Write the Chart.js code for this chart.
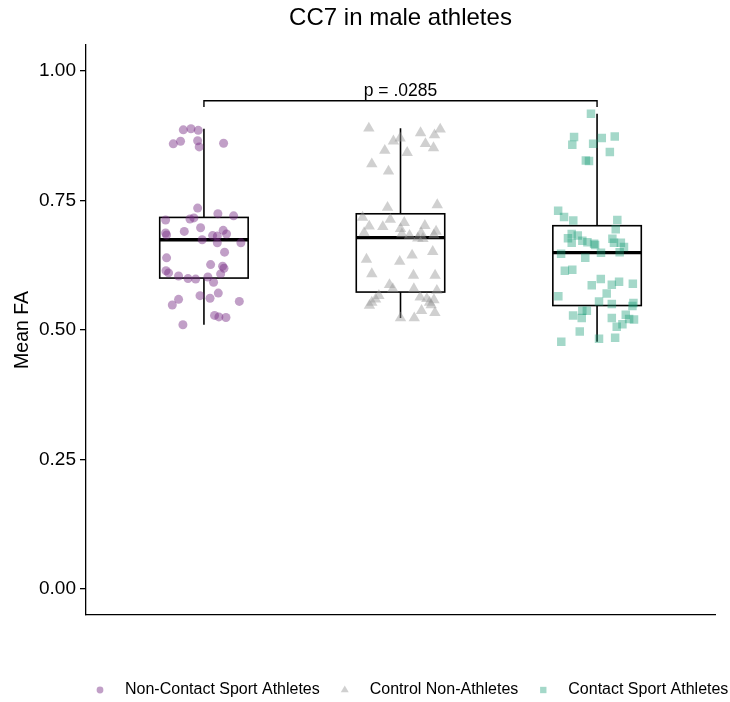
<!DOCTYPE html>
<html>
<head>
<meta charset="utf-8">
<title>CC7 in male athletes</title>
<script src="https://cdn.jsdelivr.net/npm/chart.js@4/dist/chart.umd.min.js"></script>
<style>
  html, body { margin: 0; padding: 0; background: #ffffff; }
  #wrap { width: 730px; height: 702px; }
</style>
</head>
<body>
<div id="wrap"><canvas id="chart" width="730" height="702"></canvas></div>
<script>
// Groups, in x order
const groups = ['Non-Contact Sport Athletes', 'Control Non-Athletes', 'Contact Sport Athletes'];

// Mean FA per participant, with the horizontal jitter of each dot (in category units)
const nonContactFA = [0.886,0.888,0.885,0.859,0.864,0.865,0.853,0.860,0.735,0.714,0.716,0.724,0.720,0.712,0.697,0.690,0.687,0.683,0.692,0.685,0.682,0.681,0.674,0.668,0.668,0.650,0.639,0.626,0.623,0.619,0.614,0.610,0.604,0.599,0.598,0.602,0.608,0.592,0.566,0.571,0.561,0.559,0.548,0.555,0.528,0.525,0.524,0.510];
const nonContactJitter = [-0.105,-0.066,-0.029,-0.156,-0.119,-0.032,-0.024,0.100,-0.032,-0.071,-0.051,0.071,0.151,-0.195,-0.017,-0.100,-0.195,-0.190,0.098,0.115,0.044,0.068,-0.009,0.068,0.188,0.105,-0.190,0.034,0.095,0.102,-0.193,-0.180,-0.129,-0.081,-0.042,0.020,0.085,0.049,-0.020,0.073,0.031,-0.129,-0.161,0.180,0.054,0.076,0.112,-0.107];

const controlFA = [0.889,0.880,0.887,0.876,0.870,0.864,0.859,0.851,0.846,0.842,0.820,0.806,0.736,0.741,0.717,0.713,0.700,0.699,0.707,0.695,0.701,0.687,0.685,0.682,0.687,0.677,0.676,0.690,0.683,0.651,0.644,0.636,0.632,0.608,0.605,0.605,0.587,0.579,0.579,0.576,0.566,0.559,0.553,0.547,0.563,0.560,0.553,0.548,0.558,0.537,0.533,0.523,0.523];
const controlJitter = [-0.161,0.102,0.202,0.173,-0.002,-0.036,0.127,0.168,-0.080,0.034,-0.146,-0.061,-0.066,0.187,-0.193,-0.052,-0.159,-0.090,0.019,0.000,0.124,-0.185,0.007,0.046,0.105,0.088,0.114,0.181,0.170,0.164,0.059,-0.173,-0.004,-0.146,0.066,0.176,-0.056,-0.039,0.068,0.185,-0.110,-0.127,-0.146,-0.158,0.100,0.134,0.148,0.156,0.170,0.107,0.175,0.000,0.070];

const contactFA = [0.917,0.872,0.870,0.873,0.857,0.859,0.843,0.827,0.826,0.730,0.718,0.711,0.712,0.694,0.685,0.682,0.677,0.668,0.672,0.669,0.666,0.664,0.676,0.668,0.668,0.660,0.647,0.649,0.650,0.639,0.614,0.616,0.598,0.586,0.587,0.593,0.589,0.570,0.565,0.555,0.550,0.552,0.546,0.537,0.537,0.523,0.528,0.523,0.529,0.521,0.520,0.506,0.511,0.497,0.477,0.483,0.485];
const contactJitter = [-0.031,-0.117,0.024,0.090,-0.126,-0.020,0.065,-0.057,-0.041,-0.198,-0.168,-0.121,0.103,0.095,-0.129,-0.098,-0.148,-0.129,-0.075,-0.049,-0.015,-0.010,0.078,0.086,0.121,0.137,-0.183,0.020,0.115,-0.060,-0.164,-0.126,0.019,-0.027,0.075,0.112,0.182,0.049,-0.197,0.010,0.075,0.185,0.180,-0.075,-0.052,-0.078,-0.122,0.075,0.146,0.163,0.188,0.100,0.129,-0.088,-0.182,0.010,0.092];

// Box-plot summaries, one entry per group
const whiskerLow  = [0.510, 0.523, 0.477];
const boxQ1       = [0.600, 0.573, 0.547];
const boxMedian   = [0.674, 0.678, 0.649];
const boxQ3       = [0.717, 0.724, 0.701];
const whiskerHigh = [0.888, 0.889, 0.917];

// Y axis ticks
const yTicks = [0.00, 0.25, 0.50, 0.75, 1.00];

// Significance bracket between the first and third groups
const bracketGroups = [1, 3];
const bracketLevel = 0.942;
const bracketDrop = 0.012;
const bracketLabel = 'p = .0285';

const FONT = "'Liberation Sans', Arial, Helvetica, sans-serif";
const BOX_HALF = 0.225;

function toPoints(values, jitter, pos) {
  return values.map((v, i) => ({ x: pos + jitter[i], y: v }));
}

const seriesStyle = [
  { style: 'circle',   radius: 4.5, color: 'rgba(118,42,131,0.45)', legendRadius: 3.4 },
  { style: 'triangle', radius: 6.6, color: 'rgba(150,150,150,0.45)', legendRadius: 4.6 },
  { style: 'rect',     radius: 6.0, color: 'rgba(27,158,119,0.40)', legendRadius: 4.5 }
];

const seriesData = [
  toPoints(nonContactFA, nonContactJitter, 1),
  toPoints(controlFA, controlJitter, 2),
  toPoints(contactFA, contactJitter, 3)
];

// Boxes, whiskers and the comparison bracket, drawn under the dots
const boxPlotPlugin = {
  id: 'boxPlot',
  beforeDatasetsDraw(chart) {
    const { ctx, scales: { x, y } } = chart;
    ctx.save();
    ctx.strokeStyle = '#000';
    ctx.lineCap = 'butt';
    const seg = (x1, y1, x2, y2) => { ctx.beginPath(); ctx.moveTo(x1, y1); ctx.lineTo(x2, y2); ctx.stroke(); };
    groups.forEach((g, i) => {
      const pos = i + 1;
      const cx = x.getPixelForValue(pos);
      const l = x.getPixelForValue(pos - BOX_HALF);
      const r = x.getPixelForValue(pos + BOX_HALF);
      const yQ1 = y.getPixelForValue(boxQ1[i]);
      const yQ3 = y.getPixelForValue(boxQ3[i]);
      const yMed = y.getPixelForValue(boxMedian[i]);
      ctx.lineWidth = 1.6;
      seg(cx, y.getPixelForValue(whiskerHigh[i]), cx, yQ3);
      seg(cx, yQ1, cx, y.getPixelForValue(whiskerLow[i]));
      ctx.strokeRect(l, yQ3, r - l, yQ1 - yQ3);
      ctx.lineWidth = 3.4;
      seg(l, yMed, r, yMed);
    });
    // bracket
    const bx1 = x.getPixelForValue(bracketGroups[0]);
    const bx2 = x.getPixelForValue(bracketGroups[1]);
    const by = y.getPixelForValue(bracketLevel);
    const byDrop = y.getPixelForValue(bracketLevel - bracketDrop);
    ctx.lineWidth = 1.4;
    ctx.beginPath();
    ctx.moveTo(bx1, byDrop);
    ctx.lineTo(bx1, by);
    ctx.lineTo(bx2, by);
    ctx.lineTo(bx2, byDrop);
    ctx.stroke();
    ctx.fillStyle = '#000';
    ctx.font = '17.5px ' + FONT;
    ctx.textAlign = 'center';
    ctx.textBaseline = 'bottom';
    ctx.fillText(bracketLabel, (bx1 + bx2) / 2, by - 1);
    ctx.restore();
  }
};

function drawSymbol(ctx, style, x, y, r) {
  ctx.beginPath();
  if (style === 'circle') {
    ctx.arc(x, y, r, 0, Math.PI * 2);
  } else if (style === 'triangle') {
    ctx.moveTo(x, y - r);
    ctx.lineTo(x + r * Math.sin(Math.PI / 3), y + r / 2);
    ctx.lineTo(x - r * Math.sin(Math.PI / 3), y + r / 2);
    ctx.closePath();
  } else {
    const s = r * Math.SQRT1_2;
    ctx.rect(x - s, y - s, 2 * s, 2 * s);
  }
  ctx.fill();
}

// Legend row along the bottom
const bottomLegendPlugin = {
  id: 'bottomLegend',
  afterDraw(chart) {
    const ctx = chart.ctx;
    ctx.save();
    ctx.font = '16px ' + FONT;
    ctx.textBaseline = 'middle';
    ctx.textAlign = 'left';
    const yRow = 690;
    let xPos = 100;
    chart.data.datasets.forEach((ds, i) => {
      ctx.fillStyle = ds.backgroundColor;
      drawSymbol(ctx, seriesStyle[i].style, xPos, yRow, seriesStyle[i].legendRadius);
      ctx.fillStyle = '#000';
      const tx = xPos + 25;
      ctx.fillText(ds.label, tx, yRow);
      xPos = tx + ctx.measureText(ds.label).width + 25;
    });
    ctx.restore();
  }
};

Chart.defaults.font.family = FONT;
Chart.defaults.color = '#000';

new Chart(document.getElementById('chart'), {
  type: 'scatter',
  data: {
    datasets: groups.map((g, i) => ({
      label: g,
      data: seriesData[i],
      pointStyle: seriesStyle[i].style,
      pointRadius: seriesStyle[i].radius,
      pointHoverRadius: seriesStyle[i].radius,
      backgroundColor: seriesStyle[i].color,
      borderWidth: 0,
      borderColor: 'rgba(0,0,0,0)'
    }))
  },
  options: {
    responsive: false,
    animation: false,
    events: [],
    layout: { padding: { left: 0, right: 15, top: 0, bottom: 87 } },
    plugins: {
      legend: { display: false },
      tooltip: { enabled: false },
      title: {
        display: true,
        text: 'CC7 in male athletes',
        fullSize: false,
        color: '#000',
        font: { size: 24, weight: 'normal', family: FONT },
        padding: { top: 4, bottom: 12 }
      }
    },
    scales: {
      x: {
        type: 'linear',
        min: 0.4,
        max: 3.6,
        ticks: { display: false },
        grid: { display: false },
        border: { display: true, color: '#000', width: 1.3 },
        afterFit(scale) { scale.height = 0; }
      },
      y: {
        type: 'linear',
        min: -0.05,
        max: 1.05,
        afterBuildTicks(scale) { scale.ticks = yTicks.map(v => ({ value: v })); },
        ticks: {
          color: '#000',
          font: { size: 19, family: FONT },
          padding: 4,
          callback: v => Number(v).toFixed(2)
        },
        grid: { display: true, drawOnChartArea: false, drawTicks: true, tickLength: 6, color: '#000', lineWidth: 1.3 },
        border: { display: true, color: '#000', width: 1.3 },
        title: {
          display: true,
          text: 'Mean FA',
          color: '#000',
          font: { size: 19.5, family: FONT },
          padding: { top: 11, bottom: 0 }
        },
        afterFit(scale) { scale.width = 86; }
      }
    }
  },
  plugins: [boxPlotPlugin, bottomLegendPlugin]
});
</script>
</body>
</html>
